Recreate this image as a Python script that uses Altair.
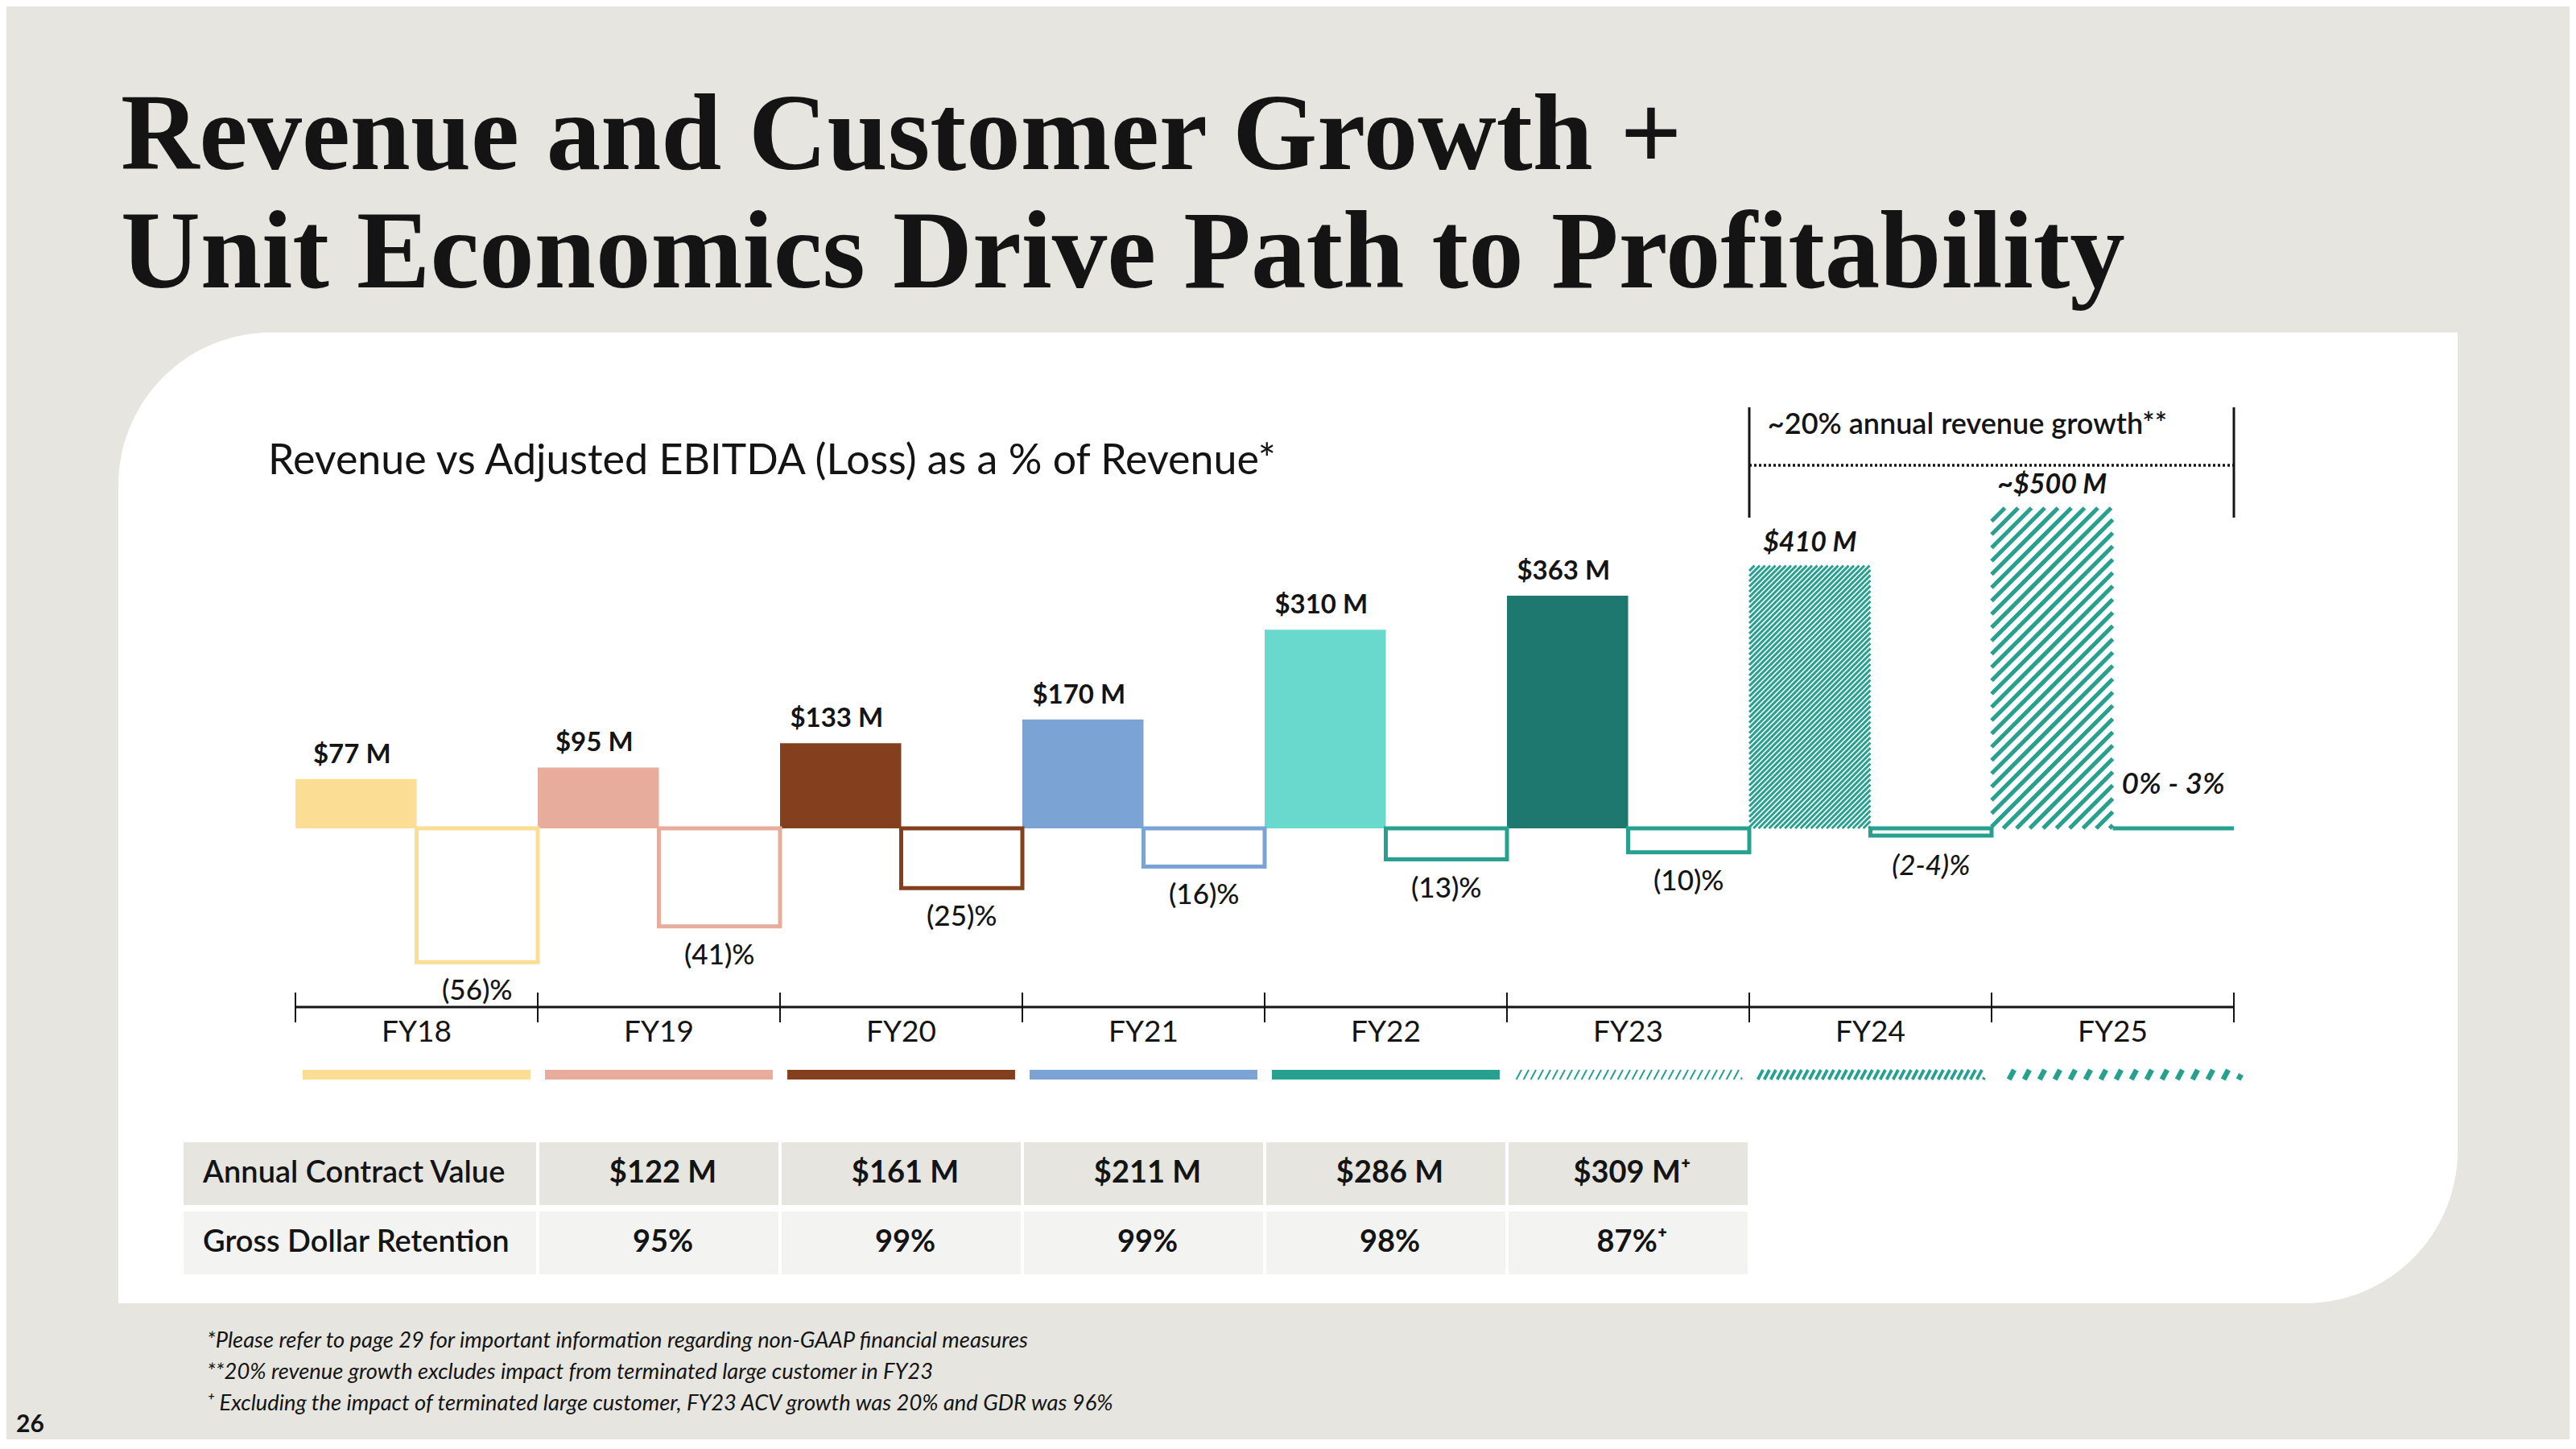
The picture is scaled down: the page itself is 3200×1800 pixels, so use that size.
import math
import altair as alt
import pandas as pd

# ---------------- data ----------------
years = ["FY18", "FY19", "FY20", "FY21", "FY22", "FY23", "FY24", "FY25"]
revenue = [77, 95, 133, 170, 310, 363, 410, 500]
revenue_labels = ["$77 M", "$95 M", "$133 M", "$170 M", "$310 M", "$363 M", "$410 M", "~$500 M"]
ebitda_pct = [-56, -41, -25, -16, -13, -10, -3, 0]
ebitda_labels = ["(56)%", "(41)%", "(25)%", "(16)%", "(13)%", "(10)%", "(2-4)%", "0% - 3%"]
projected = [False, False, False, False, False, False, True, True]

table_years = ["FY19", "FY20", "FY21", "FY22", "FY23"]
acv_labels = ["$122 M", "$161 M", "$211 M", "$286 M", "$309 M\u207a"]
gdr_labels = ["95%", "99%", "99%", "98%", "87%\u207a"]
table_row_names = ["Annual Contract Value", "Gross Dollar Retention"]

title_lines = ["Revenue and Customer Growth +", "Unit Economics Drive Path to Profitability"]
subtitle = "Revenue vs Adjusted EBITDA (Loss) as a % of Revenue*"
bracket_label = "~20% annual revenue growth**"
footnotes = [
    "*Please refer to page 29 for important information regarding non-GAAP financial measures",
    "**20% revenue growth excludes impact from terminated large customer in FY23",
    "\u207a Excluding the impact of terminated large customer, FY23 ACV growth was 20% and GDR was 96%",
]
page_number = "26"

# ---------------- style ----------------
BG = "#E6E5DF"
INK = "#141414"
TEAL = "#27A08F"
REV_COLORS = ["#FCDD94", "#E8AC9C", "#84401E", "#7BA3D3", "#68D9CC", "#1E7870", TEAL, TEAL]
EB_COLORS = ["#FCDD94", "#E8AC9C", "#84401E", "#7BA3D3", TEAL, TEAL, TEAL, TEAL]
STRIP_COLORS = ["#FCDD94", "#E8AC9C", "#84401E", "#7BA3D3", TEAL]
SANS = "Lato"
SERIF = "Liberation Serif"

OFF = 8
W, H = 3184, 1780


def P(v):
    return v - OFF


X_LEFT, X_RIGHT = 367, 2775
ZERO_Y = 1029
REV_MAX, REV_PX = 500, 398
EB_MIN, EB_PX = -60, 178
PX_PER_SLOT = (X_RIGHT - X_LEFT) / 8
PX_PER_M = REV_PX / REV_MAX

XS = alt.Scale(domain=[0, 8], range=[P(X_LEFT), P(X_RIGHT)], nice=False, zero=False)
YS_REV = alt.Scale(domain=[0, REV_MAX], range=[P(ZERO_Y), P(ZERO_Y - REV_PX)], nice=False, zero=False)
YS_EB = alt.Scale(domain=[EB_MIN, 0], range=[P(ZERO_Y + EB_PX), P(ZERO_Y)], nice=False, zero=False)
STRIP_TOP, STRIP_BOT = 1329, 1341
YS_STRIP = alt.Scale(domain=[0, 1], range=[P(STRIP_BOT), P(STRIP_TOP)], nice=False, zero=False)

one = pd.DataFrame({"a": [0]})


def X(field):
    return alt.X(field, type="quantitative", scale=XS, axis=None)


def txt(text, x, y, align="left", baseline="alphabetic", size=30, weight="normal",
        style="normal", font=SANS, color=INK):
    return alt.Chart(one).mark_text(
        text=text, align=align, baseline=baseline, fontSize=size, fontWeight=weight,
        fontStyle=style, font=font, color=color
    ).encode(x=alt.value(P(x)), y=alt.value(P(y)))


def hatch(x0, x1, ytop, px_x, px_y, period, angle_deg, ybot=0.0, phase=0.0):
    b = (x1 - x0) * px_x
    h = (ytop - ybot) * px_y
    t = math.tan(math.radians(angle_deg))
    rows = []
    c = -h / t + phase
    while c < b:
        xa = max(0.0, c)
        xb = min(b, c + h / t)
        if xb > xa:
            rows.append({
                "x": x0 + xa / px_x, "x2": x0 + xb / px_x,
                "y": ybot + t * (xa - c) / px_y, "y2": ybot + t * (xb - c) / px_y,
            })
        c += period
    return pd.DataFrame(rows)


layers = []

# white card
layers.append(alt.Chart(one).mark_rect(
    fill="white", cornerRadiusTopLeft=190, cornerRadiusBottomRight=190
).encode(x=alt.value(P(147)), x2=alt.value(P(3053)), y=alt.value(P(413)), y2=alt.value(P(1619))))

# titles
layers.append(txt(title_lines[0], 150, 210, size=135, weight="bold", font=SERIF))
layers.append(txt(title_lines[1], 150, 357, size=137, weight="bold", font=SERIF))
layers.append(txt(subtitle, 333, 589, size=52))

# revenue bars
rev_df = pd.DataFrame({
    "year": years, "i": list(range(8)), "rev": revenue, "label": revenue_labels,
    "color": REV_COLORS, "proj": projected, "base": 0,
})
rev_df["x0"] = rev_df["i"]
rev_df["x1"] = rev_df["i"] + 0.5
rev_df["xc"] = rev_df["i"] + 0.25

layers.append(alt.Chart(rev_df[~rev_df.proj]).mark_rect().encode(
    x=X("x0"), x2="x1",
    y=alt.Y("rev:Q", scale=YS_REV, axis=None), y2="base",
    color=alt.Color("color:N", scale=None),
))

# hatched projected revenue bars
h24 = rev_df[rev_df.year == "FY24"].iloc[0]
h25 = rev_df[rev_df.year == "FY25"].iloc[0]
hatch24 = hatch(h24.x0, h24.x1, h24.rev, PX_PER_SLOT, PX_PER_M, 6.5, 45)
hatch25 = hatch(h25.x0, h25.x1, h25.rev, PX_PER_SLOT, PX_PER_M, 16.5, 45)
for dfh, sw in [(hatch24, 2.9), (hatch25, 5.2)]:
    layers.append(alt.Chart(dfh).mark_rule(color=TEAL, strokeWidth=sw, strokeCap="butt").encode(
        x=X("x"), x2="x2",
        y=alt.Y("y:Q", scale=YS_REV, axis=None), y2="y2",
    ))

# revenue labels
layers.append(alt.Chart(rev_df[~rev_df.proj]).mark_text(
    font=SANS, fontSize=33, fontWeight="bold", color=INK, baseline="middle", dy=-30, dx=-5
).encode(x=X("xc"), y=alt.Y("rev:Q", scale=YS_REV, axis=None), text="label:N"))
layers.append(alt.Chart(rev_df[rev_df.proj]).mark_text(
    font=SANS, fontSize=34, fontWeight="bold", fontStyle="italic", color=INK, baseline="middle", dy=-28
).encode(x=X("xc"), y=alt.Y("rev:Q", scale=YS_REV, axis=None), text="label:N"))

# EBITDA boxes
eb_df = pd.DataFrame({
    "year": years, "i": list(range(8)), "eb": ebitda_pct, "label": ebitda_labels,
    "color": EB_COLORS, "proj": projected, "base": 0,
})
eb_df["x0"] = eb_df["i"] + 0.5
eb_df["x1"] = eb_df["i"] + 1.0
eb_df["xc"] = eb_df["i"] + 0.75

layers.append(alt.Chart(eb_df).mark_rect(fill="white", strokeWidth=5, strokeJoin="miter").encode(
    x=X("x0"), x2="x1",
    y=alt.Y("eb:Q", scale=YS_EB, axis=None), y2="base",
    stroke=alt.Stroke("color:N", scale=None),
))

layers.append(alt.Chart(eb_df[~eb_df.proj]).mark_text(
    font=SANS, fontSize=35, fontWeight=500, color=INK, baseline="middle", dy=36
).encode(x=X("xc"), y=alt.Y("eb:Q", scale=YS_EB, axis=None), text="label:N"))
layers.append(alt.Chart(eb_df[eb_df.year == "FY24"]).mark_text(
    font=SANS, fontSize=35, fontWeight=500, fontStyle="italic", color=INK, baseline="middle", dy=38
).encode(x=X("xc"), y=alt.Y("eb:Q", scale=YS_EB, axis=None), text="label:N"))
layers.append(alt.Chart(eb_df[eb_df.year == "FY25"]).mark_text(
    font=SANS, fontSize=37, fontWeight=600, fontStyle="italic", color=INK, baseline="alphabetic", dy=-43
).encode(x=X("xc"), y=alt.Y("eb:Q", scale=YS_EB, axis=None), text="label:N"))

# bracket annotation over projected years
br_df = pd.DataFrame({"x": [6, 8]})
layers.append(alt.Chart(br_df).mark_rule(color=INK, strokeWidth=3).encode(
    x=X("x"), y=alt.value(P(506)), y2=alt.value(P(643))))
layers.append(alt.Chart(pd.DataFrame({"x": [6], "x2": [8]})).mark_rule(
    color=INK, strokeWidth=3.5, strokeDash=[3, 3]
).encode(x=X("x"), x2="x2", y=alt.value(P(578))))
layers.append(alt.Chart(pd.DataFrame({"x": [6.9]})).mark_text(
    text=bracket_label, font=SANS, fontSize=36, fontWeight=600, color=INK, baseline="alphabetic"
).encode(x=X("x"), y=alt.value(P(539))))

# timeline
tl_df = pd.DataFrame({"x": [0], "x2": [8]})
layers.append(alt.Chart(tl_df).mark_rule(color=INK, strokeWidth=3).encode(
    x=X("x"), x2="x2", y=alt.value(P(1251))))
layers.append(alt.Chart(pd.DataFrame({"x": list(range(9))})).mark_rule(color=INK, strokeWidth=2).encode(
    x=X("x"), y=alt.value(P(1233)), y2=alt.value(P(1270))))
lab_df = pd.DataFrame({"year": years, "x": [i + 0.5 for i in range(8)]})
layers.append(alt.Chart(lab_df).mark_text(
    font=SANS, fontSize=37, color=INK, baseline="middle"
).encode(x=X("x"), y=alt.value(P(1283)), text="year:N"))

# colour strips under timeline
strip_df = pd.DataFrame({
    "x": [i + 0.03 for i in range(5)], "x2": [i + 0.97 for i in range(5)],
    "y": [1] * 5, "y2": [0] * 5, "color": STRIP_COLORS,
})
layers.append(alt.Chart(strip_df).mark_rect().encode(
    x=X("x"), x2="x2", y=alt.Y("y:Q", scale=YS_STRIP, axis=None), y2="y2",
    color=alt.Color("color:N", scale=None)))
px_strip = STRIP_BOT - STRIP_TOP
for i, period, sw in [(5, 9.0, 2.0), (6, 8.0, 3.8), (7, 19.0, 6.5)]:
    dfs = hatch(i + 0.03, i + 1.03 if i == 7 else i + 0.97, 1.0, PX_PER_SLOT, px_strip, period, 62)
    layers.append(alt.Chart(dfs).mark_rule(color=TEAL, strokeWidth=sw, strokeCap="butt").encode(
        x=X("x"), x2="x2", y=alt.Y("y:Q", scale=YS_STRIP, axis=None), y2="y2"))

# table
ROW_Y = [(1419, 1497), (1505, 1583)]
ROW_FILL = ["#E6E5DF", "#F3F3F1"]
for r, (vals, name) in enumerate([(acv_labels, table_row_names[0]), (gdr_labels, table_row_names[1])]):
    y0, y1 = ROW_Y[r]
    cell_df = pd.DataFrame({
        "x": [years.index(y) for y in table_years],
        "x2": [years.index(y) + 1 for y in table_years],
        "xc": [years.index(y) + 0.5 for y in table_years],
        "label": vals,
    })
    layers.append(alt.Chart(one).mark_rect(fill=ROW_FILL[r]).encode(
        x=alt.value(P(228)), x2=alt.value(P(666)), y=alt.value(P(y0)), y2=alt.value(P(y1))))
    layers.append(alt.Chart(cell_df).mark_rect(fill=ROW_FILL[r], stroke="white", strokeWidth=4).encode(
        x=X("x"), x2="x2", y=alt.value(P(y0 - 2)), y2=alt.value(P(y1 + 2))))
    yc = (y0 + y1) / 2
    layers.append(txt(name, 252, yc, baseline="middle", size=38, weight=600))
    layers.append(alt.Chart(cell_df).mark_text(
        font=SANS, fontSize=38, fontWeight="bold", color=INK, baseline="middle", dx=5
    ).encode(x=X("xc"), y=alt.value(P(yc)), text="label:N"))

# footnotes and page number
for k, line in enumerate(footnotes):
    layers.append(txt(line, 257, 1674 + 39 * k, size=27.3, style="italic"))
layers.append(txt(page_number, 20, 1779, size=30, weight="bold"))

chart = alt.layer(*layers).resolve_scale(x="independent", y="independent").properties(
    width=W, height=H, padding=0, autosize="none", background=BG
).configure_view(stroke=None)

chart.save("out.html", embed_options={"renderer": "svg", "actions": False})
